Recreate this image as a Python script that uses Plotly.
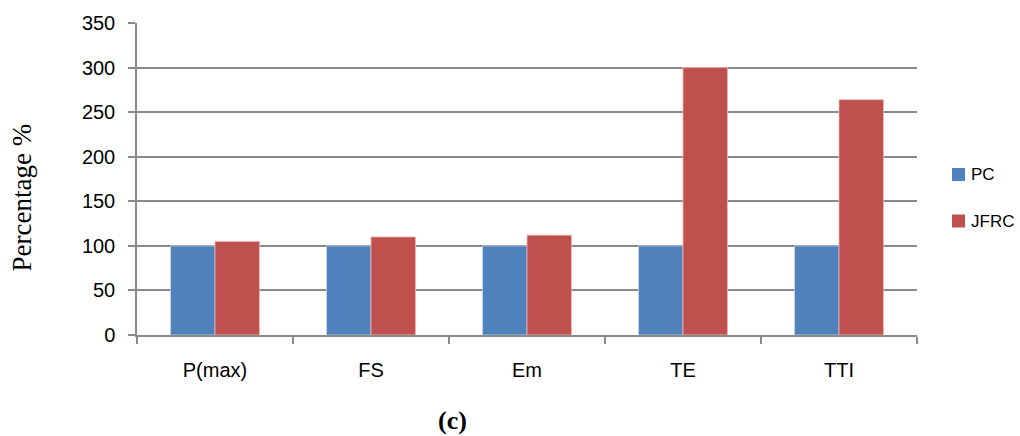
import plotly.graph_objects as go

categories = ["P(max)", "FS", "Em", "TE", "TTI"]
pc_values = [100, 100, 100, 100, 100]
jfrc_values = [105, 110, 112, 300, 264]
y_ticks = [0, 50, 100, 150, 200, 250, 300, 350]
series_names = ["PC", "JFRC"]
series_colors = ["#4F81BD", "#C0504D"]

grid = "#8a8a8a"
font_sans = "Liberation Sans, Arial, sans-serif"
font_serif = "Liberation Serif, Times New Roman, serif"

# plot area geometry in pixels (for paper-coordinate annotations)
L, R, T, B = 137, 917, 23, 335
W, H = R - L, B - T


def px(xp):
    return (xp - L) / W


def py(yp):
    return (B - yp) / H


fig = go.Figure()
for name, vals, col, lc in [(series_names[0], pc_values, series_colors[0], "#c9d6ea"),
                            (series_names[1], jfrc_values, series_colors[1], "#eab8b6")]:
    fig.add_trace(go.Bar(name=name, x=categories, y=vals,
                         marker=dict(color=col, line=dict(color=lc, width=0.8)),
                         showlegend=False))

shapes = []
annotations = []
# manual legend
for i, (name, col) in enumerate(zip(series_names, series_colors)):
    cy = 174.5 + i * 46.5
    shapes.append(dict(type="rect", xref="paper", yref="paper",
                       x0=px(952), x1=px(965), y0=py(cy + 6.5), y1=py(cy - 6.5),
                       fillcolor=col, line=dict(width=0)))
    annotations.append(dict(text=name, x=px(969), y=py(cy), xref="paper", yref="paper",
                            xanchor="left", yanchor="middle", showarrow=False,
                            font=dict(family=font_sans, size=17, color="black")))

annotations.append(dict(text="Percentage %", x=px(21), y=py(197.5), xref="paper", yref="paper",
                        textangle=-90, showarrow=False, xanchor="center", yanchor="middle",
                        font=dict(family=font_serif, size=27, color="black")))
annotations.append(dict(text="<b>(c)</b>", x=px(452), y=py(420), xref="paper", yref="paper",
                        xanchor="center", yanchor="middle", showarrow=False,
                        font=dict(family=font_serif, size=26, color="black")))

fig.update_layout(
    width=1020, height=436,
    margin=dict(l=L, r=1020 - R, t=T, b=436 - B, pad=0),
    paper_bgcolor="white", plot_bgcolor="white",
    barmode="group", bargap=0.43, bargroupgap=0,
    showlegend=False,
    font=dict(family=font_sans, size=20, color="black"),
    xaxis=dict(showline=True, linecolor=grid, linewidth=1.5, ticks="outside",
               tickson="boundaries", ticklen=7, tickcolor=grid, tickwidth=1.5,
               ticklabelstandoff=16, showgrid=False, automargin=False,
               tickfont=dict(size=20)),
    yaxis=dict(range=[0, 350], tickvals=y_ticks, showline=True, linecolor=grid,
               linewidth=1.5, ticks="outside", ticklen=7, tickcolor=grid, tickwidth=1.5,
               showgrid=True, gridcolor=grid, gridwidth=1.5, zeroline=False,
               ticklabelstandoff=9, tickfont=dict(size=20), automargin=False),
    shapes=shapes,
    annotations=annotations,
)

fig.write_html("out.html", config={"displayModeBar": False},
               post_script="document.body.style.margin='0';document.body.style.overflow='hidden';")
